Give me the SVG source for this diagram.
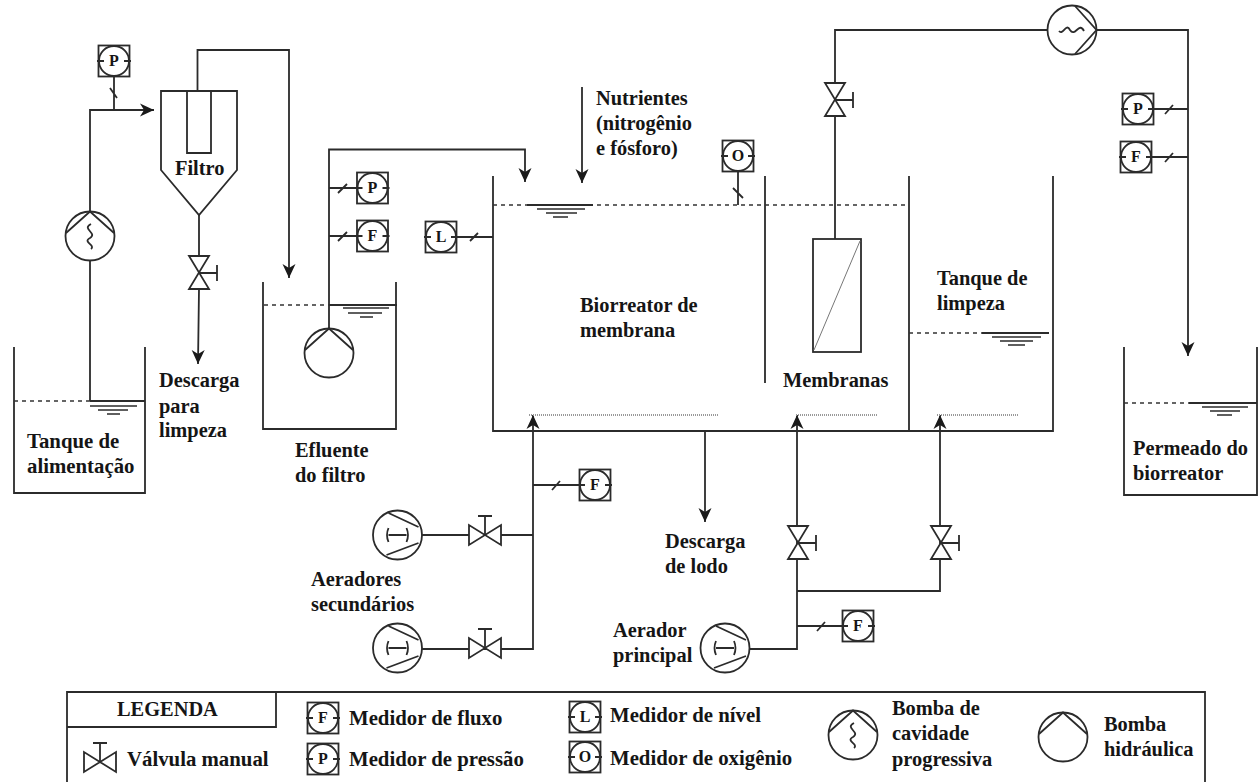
<svg xmlns="http://www.w3.org/2000/svg" width="1259" height="782" viewBox="0 0 1259 782">
<style>
text{font-family:"Liberation Serif","Times New Roman",serif;font-weight:bold;font-size:20.400px;fill:#151515}
.l{font-size:20.800px}
.i{font-size:16px;text-anchor:middle}
.s,.s *{fill:none;stroke:#2b2b2b;stroke-width:1.800}
.c,.c *{stroke:#2b2b2b;stroke-width:1.800;fill:none}
.d{fill:none;stroke:#333;stroke-width:1.400;stroke-dasharray:4 4}
.t{fill:none;stroke:#2b2b2b;stroke-width:1.300}
.g{fill:none;stroke:#999;stroke-width:2;stroke-dasharray:1 1}
.a{marker-end:url(#ah)}
</style>
<defs>
<marker id="ah" markerUnits="userSpaceOnUse" markerWidth="18" markerHeight="16" viewBox="-1 -8 18 16" refX="14" refY="0" orient="auto"><path d="M0,-6.500L14,0L0,6.500L4,0Z" fill="#1a1a1a" stroke="none"/></marker>
<g id="inst" class="s"><rect x="-15.500" y="-15.500" width="31" height="31" stroke="#555"/><circle r="15" style="fill:#fff"/><path d="M-17,0H-10M10,0H17"/></g>
<g id="pump" class="s"><circle r="24.500" style="fill:#fff"/><path d="M-24,-3L0,-24.500L24,-3"/></g>
<g id="pcp" class="s"><use href="#pump"/><path d="M1,-12C-9,-7 8,-3 0,2C-8,6 6,9 1,13"/></g>
<g id="blower" class="s"><circle r="24.500" style="fill:#fff"/><path d="M-9,-22L21,-8M-11,20L21,8M-9,0H9M-9,-7Q-12,0 -9,7M9,-7Q12,0 9,7"/></g>
<g id="valveV" class="s"><path d="M-10,-17H10L-10,16H10Z" style="fill:#fff"/><path d="M0,0H18M18,-8V8"/></g>
<g id="valveH" class="s"><path d="M-16,-10V10L16,-10V10Z" style="fill:#fff"/><path d="M0,0V-19M-7,-19H7"/></g>
</defs>
<rect width="1259" height="782" fill="#fff"/>
<g id="connectors" class="c">
<path d="M90,401V110H154" class="a"/>
<path d="M114,77V110M110,88L117,98"/>
<path d="M197.500,91V50H289V278" class="a"/>
<path d="M199,215V258M199,289L198,364" class="a"/>
<path d="M329,330V149.500H525V182" class="a"/>
<path d="M329,188H357M329,236H357M338,193L347,184M338,241L347,232"/>
<path d="M582,87V183" class="a"/>
<path d="M738,172V205M733,188L743,198"/>
<path d="M457,237H493M470,241L478,233"/>
<path d="M835,239V30H1048"/>
<path d="M1097,30H1188V356" class="a"/>
<path d="M1153,109H1188M1152,157H1188M1165,114L1173,105M1165,162L1173,153"/>
<path d="M705,431V522" class="a"/>
<path d="M422,535H533M422,649H533V415" class="a"/>
<path d="M533,485H580M552,490L560,481"/>
<path d="M749,649H797V415" class="a"/>
<path d="M797,591H940V415" class="a"/>
<path d="M797,626H843M817,631L825,622"/>
</g>
<g id="tanque-alimentacao">
<path class="s" d="M14,347V493H145V347"/><path class="d" d="M14,401H90"/><path class="s" d="M90,401H145"/><path class="t" d="M90,406H137M98,410H128M107,414H120"/>
<text class="l" x="27" y="448">Tanque de</text><text class="l" x="27" y="473">alimentação</text>
</g>
<g id="pressao-alimentacao"><use href="#inst" x="114" y="61"/><text class="i" x="114" y="66">P</text></g>
<g id="bomba-alimentacao"><use href="#pcp" x="90" y="236"/></g>
<g id="filtro">
<path class="s" d="M161,91H237V170L199,215L161,170Z"/><path class="s" d="M187,91V153H211V91"/>
<text x="175" y="175">Filtro</text>
</g>
<g id="valvula-filtro"><use href="#valveV" x="199" y="273"/></g>
<g id="descarga-limpeza"><text x="159" y="387">Descarga</text><text x="159" y="413">para</text><text x="159" y="437">limpeza</text></g>
<g id="tanque-efluente">
<path class="s" d="M263,282V429H396V282"/><path class="d" d="M264,305H329"/><path class="s" d="M329,305H397"/><path class="t" d="M343,308H389M348,313H382M360,317H373"/>
<text x="295" y="457">Efluente</text><text x="295" y="482">do filtro</text>
</g>
<g id="bomba-efluente"><use href="#pump" x="329" y="353"/></g>
<g id="pressao-efluente"><use href="#inst" x="372.500" y="188"/><text class="i" x="372.500" y="193">P</text></g>
<g id="fluxo-efluente"><use href="#inst" x="372.500" y="236"/><text class="i" x="372.500" y="241">F</text></g>
<g id="biorreator">
<path class="s" d="M493,176V431H1053V176M909,176V431M765,176V383"/>
<path class="d" d="M493,205H909"/><path class="s" d="M527,205H593"/><path class="t" d="M537,209H585M546,213H577M553,217H568"/>
<path class="g" d="M529,415H719M796,415H877M937,415H1019"/>
<text x="580" y="312">Biorreator de</text><text x="580" y="337">membrana</text>
<text x="783" y="387">Membranas</text>
</g>
<g id="nivel"><use href="#inst" x="441" y="237"/><text class="i" x="441" y="242">L</text></g>
<g id="oxigenio"><use href="#inst" x="738" y="156"/><text class="i" x="738" y="161">O</text></g>
<g id="nutrientes"><text x="596" y="105">Nutrientes</text><text x="596" y="130">(nitrogênio</text><text x="596" y="155">e fósforo)</text></g>
<g id="membrana"><rect class="s" x="813" y="239" width="48" height="113" style="fill:#fff"/><path d="M860,241L814,350" fill="none" stroke="#777" stroke-width="1"/></g>
<g id="valvula-permeado"><use href="#valveV" x="835" y="100"/></g>
<g id="bomba-permeado"><use href="#pcp" transform="translate(1072,30) rotate(90)"/></g>
<g id="pressao-permeado"><use href="#inst" x="1138" y="109"/><text class="i" x="1138" y="114">P</text></g>
<g id="fluxo-permeado"><use href="#inst" x="1136" y="157"/><text class="i" x="1136" y="162">F</text></g>
<g id="tanque-limpeza">
<path class="d" d="M909,333H982"/><path class="s" d="M982,333H1049"/><path class="t" d="M992,337H1041M1000,341H1033M1008,345H1025"/>
<text x="937" y="285">Tanque de</text><text x="937" y="310">limpeza</text>
</g>
<g id="tanque-permeado">
<path class="s" d="M1124,347V495H1257V347"/><path class="d" d="M1124,403H1189"/><path class="s" d="M1189,403H1257"/><path class="t" d="M1202,407H1248M1210,411H1240M1217,415H1232"/>
<text x="1133" y="455">Permeado do</text><text x="1133" y="480">biorreator</text>
</g>
<g id="fluxo-secundario"><use href="#inst" x="595" y="485"/><text class="i" x="595" y="490">F</text></g>
<g id="aerador-sec-1"><use href="#blower" x="397.500" y="535"/></g>
<g id="valvula-sec-1"><use href="#valveH" x="485" y="535"/></g>
<g id="aerador-sec-2"><use href="#blower" x="397.500" y="648"/></g>
<g id="valvula-sec-2"><use href="#valveH" x="485" y="648"/></g>
<g id="aeradores-secundarios"><text x="311" y="586">Aeradores</text><text x="311" y="611">secundários</text></g>
<g id="descarga-lodo"><text x="665" y="548">Descarga</text><text x="665" y="573">de lodo</text></g>
<g id="valvula-principal-1"><use href="#valveV" x="798" y="543"/></g>
<g id="valvula-principal-2"><use href="#valveV" x="941" y="543"/></g>
<g id="fluxo-principal"><use href="#inst" x="858" y="626"/><text class="i" x="858" y="631">F</text></g>
<g id="aerador-principal"><use href="#blower" x="725" y="648"/><text x="613" y="637">Aerador</text><text x="613" y="662">principal</text></g>
<g id="legenda">
<path class="s" d="M67,782V692H1205V782"/><path class="s" d="M67,727H276V692"/>
<text x="117" y="716">LEGENDA</text>
<use href="#valveH" x="100" y="762"/><text class="l" x="127" y="766">Válvula manual</text>
<use href="#inst" x="323" y="718"/><text class="i" x="323" y="723">F</text><text class="l" x="349" y="725">Medidor de fluxo</text>
<use href="#inst" x="323" y="759"/><text class="i" x="323" y="764">P</text><text class="l" x="349" y="766">Medidor de pressão</text>
<use href="#inst" x="585" y="717"/><text class="i" x="585" y="722">L</text><text class="l" x="610" y="722">Medidor de nível</text>
<use href="#inst" x="585" y="757"/><text class="i" x="585" y="762">O</text><text class="l" x="610" y="765">Medidor de oxigênio</text>
<use href="#pcp" x="853" y="735"/><text x="892" y="715">Bomba de</text><text x="892" y="740">cavidade</text><text x="892" y="766">progressiva</text>
<use href="#pump" x="1063" y="737"/><text x="1104" y="731">Bomba</text><text x="1104" y="756">hidráulica</text>
</g>
</svg>
